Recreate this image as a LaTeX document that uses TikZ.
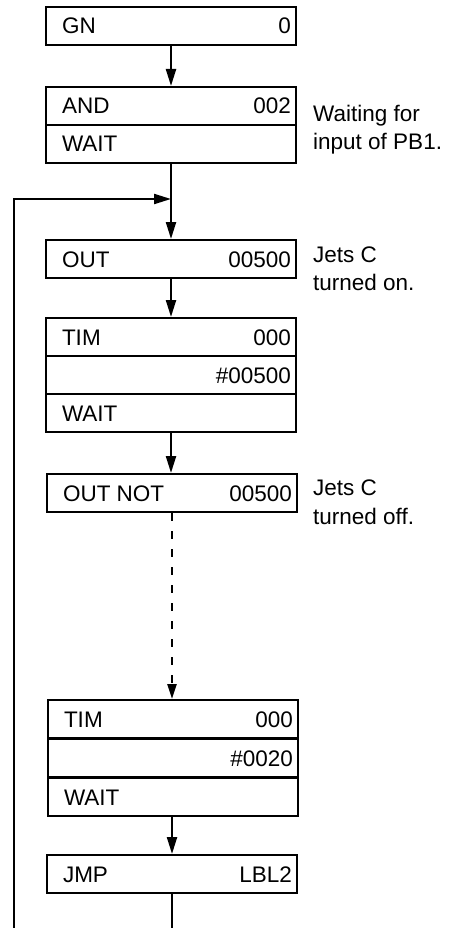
\documentclass[tikz,border=0pt]{standalone}
\usepackage{fontspec}
\setmainfont{Liberation Sans}
\usetikzlibrary{arrows.meta}
\newcommand{\rowtext}[2]{\makebox[240pt]{\hspace{11pt}#1\hfill #2}}
\tikzset{
  rowbox/.style={draw, line width=2pt, minimum width=250pt, minimum height=38pt,
    inner sep=0pt, text height=16pt, text depth=0pt, anchor=north,
    font=\fontsize{22.5pt}{27pt}\selectfont},
  conn/.style={line width=2.2pt},
  arr/.style={conn, -{Triangle[length=17pt,width=10pt]}},
  note/.style={anchor=base west, inner sep=0pt, align=left,
    font=\fontsize{22.5pt}{28.5pt}\selectfont}
}
\begin{document}
\begin{tikzpicture}[x=1pt,y=-1pt]
\useasboundingbox (0,0) rectangle (454,928);
% boxes
\node[rowbox] (gn) at (171,6) {\rowtext{GN}{0}};
\node[rowbox] (and1) at (171,86) {\rowtext{AND}{002}};
\node[rowbox] (and2) at (171,124) {\rowtext{WAIT}{}};
\node[rowbox] (out) at (171,239) {\rowtext{OUT}{00500}};
\node[rowbox] (tima1) at (171,317) {\rowtext{TIM}{000}};
\node[rowbox] (tima2) at (171,355) {\rowtext{}{\#00500}};
\node[rowbox] (tima3) at (171,393) {\rowtext{WAIT}{}};
\node[rowbox] (outnot) at (172,473) {\rowtext{OUT NOT}{00500}};
\node[rowbox] (timb1) at (173,699) {\rowtext{TIM}{000}};
\node[rowbox] (timb2) at (173,738) {\rowtext{}{\#0020}};
\node[rowbox] (timb3) at (173,777) {\rowtext{WAIT}{}};
\node[rowbox] (jmp) at (172,854) {\rowtext{JMP}{LBL2}};
% notes (anchored at the baseline of the last line)
\node[note] (n1) at (313,150) {Waiting for\\input of PB1.};
\node[note] (n2) at (313,290.5) {Jets C\\turned on.};
\node[note] (n3) at (313,524) {Jets C\\turned off.};
% connectors
\coordinate (junc) at (171,199);
\coordinate (lt) at (14,199);
\coordinate (lb) at (14,928);
\coordinate (jb) at (172,928);
\draw[arr] (gn.south) -- (and1.north);
\draw[arr] (and2.south) -- (out.north);
\draw[arr] (lb) -- (lt) -- (junc);
\draw[arr] (out.south) -- (tima1.north);
\draw[arr] (tima3.south) -- (tima3.south |- outnot.north);
\draw[conn, dash pattern=on 8pt off 10pt, -{Triangle[length=15pt,width=9pt]}] (outnot.south) -- (outnot.south |- timb1.north);
\draw[arr] (timb3.south -| jmp.south) -- (jmp.north);
\draw[conn] (jmp.south) -- (jb);
\end{tikzpicture}
\end{document}
